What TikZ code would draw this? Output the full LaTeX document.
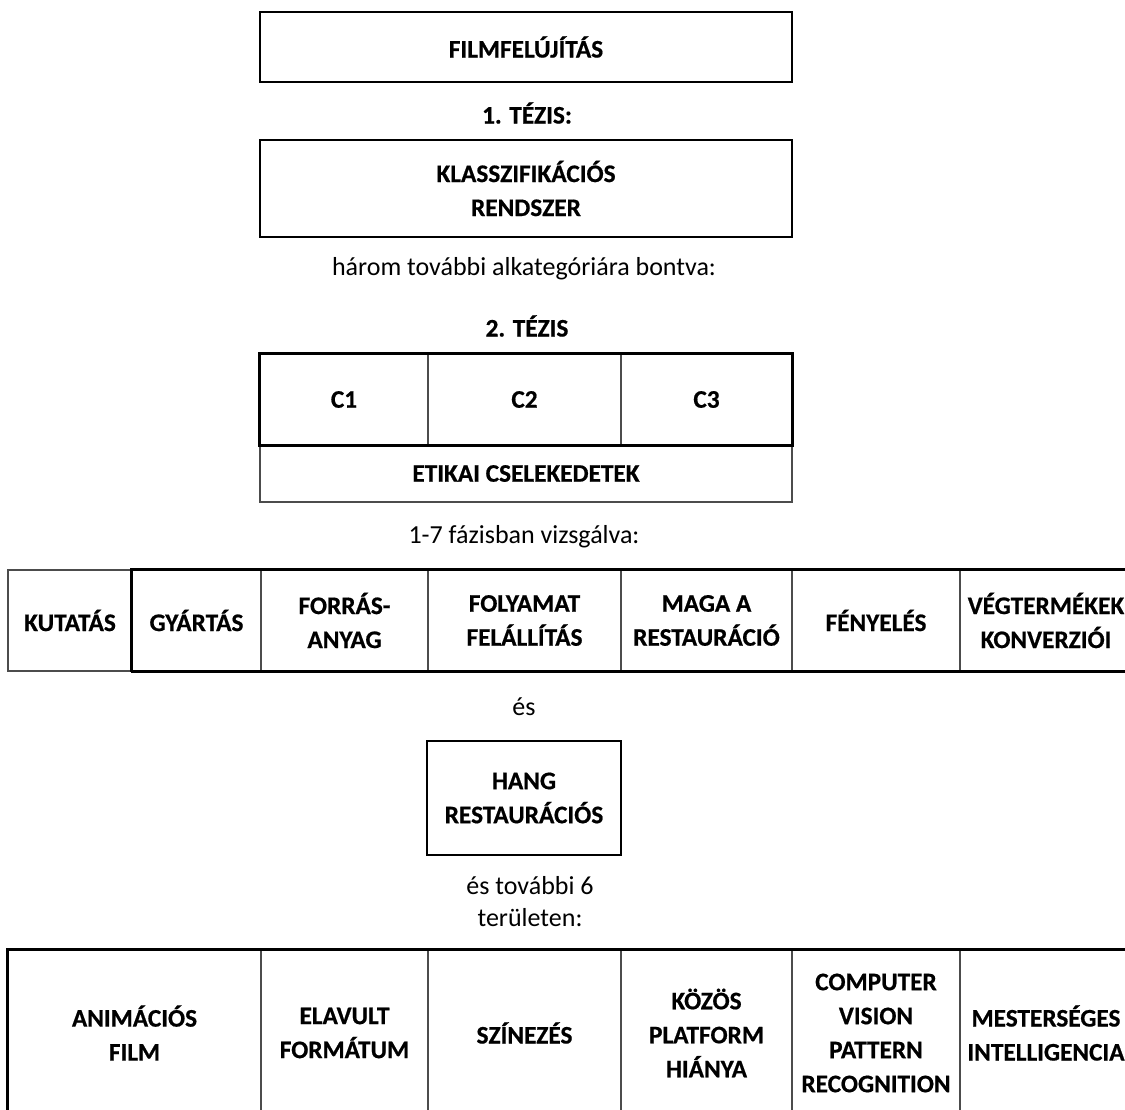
\documentclass[tikz,border=0pt]{standalone}
\usepackage{fontspec}
\setmainfont{Carlito}[BoldFeatures={FakeBold=0.6}]
\begin{document}
\begin{tikzpicture}[x=1pt,y=-1pt,
  thickline/.style={line width=2.6pt, draw=black},
  thinline/.style={line width=1.1pt, draw=black!70},
  txt/.style={font=\bfseries\fontsize{25.3}{34}\selectfont, align=center, inner sep=0pt},
  plaintxt/.style={font=\fontsize{26}{32}\selectfont, align=center, inner sep=0pt},
  cellbox/.style={txt, thinline, minimum width=#1}
]
\useasboundingbox (0,0) rectangle (1125,1110);
\clip (0,0) rectangle (1125,1110);

% top boxes
\node[txt, thickline, minimum width=532, minimum height=70] (film) at (526,47) {FILMFELÚJÍTÁS};
\node[txt] (tezis1) at (527,113) {1. TÉZIS:};
\node[txt, thickline, minimum width=532, minimum height=97] (klassz) at (526,188.5) {KLASSZIFIKÁCIÓS\\RENDSZER};
\node[plaintxt] (harom) at (524,269) {három további alkategóriára bontva:};
\node[txt] (tezis2) at (527,326) {2. TÉZIS};

% C table
\node[cellbox=168, minimum height=91] (c1) at (344,399.5) {C1};
\node[cellbox=193, minimum height=91] (c2) at (524.5,399.5) {C2};
\node[cellbox=171, minimum height=91] (c3) at (706.5,399.5) {C3};
\node[cellbox=532, minimum height=57] (etika) at (526,473.5) {ETIKAI CSELEKEDETEK};
\draw[thickline] (c1.north west) rectangle (c3.south east);

\node[plaintxt] (fazis) at (524,537) {1-7 fázisban vizsgálva:};

% phases row
\node[cellbox=124, minimum height=101] (kutatas) at (70,620.5) {KUTATÁS};
\node[cellbox=129, minimum height=101] (gyartas) at (196.5,620.5) {GYÁRTÁS};
\node[cellbox=167, minimum height=101] (forras) at (344.5,620.5) {FORRÁS-\\ANYAG};
\node[cellbox=193, minimum height=101] (folyamat) at (524.5,620.5) {FOLYAMAT\\FELÁLLÍTÁS};
\node[cellbox=171, minimum height=101] (maga) at (706.5,620.5) {MAGA A\\RESTAURÁCIÓ};
\node[cellbox=168, minimum height=101] (fenyeles) at (876,620.5) {FÉNYELÉS};
\node[cellbox=172, minimum height=101] (vegterm) at (1046,620.5) {VÉGTERMÉKEK\\KONVERZIÓI};
\draw[thickline] (gyartas.south west) -- (gyartas.north west) -- (vegterm.north east);
\draw[thickline] (gyartas.south west) -- (vegterm.south east);

\node[plaintxt] (es) at (524,707) {és};
\node[txt, thickline, minimum width=194, minimum height=114] (hang) at (524,798) {HANG\\RESTAURÁCIÓS};
\node[plaintxt] (tovabbi) at (530,902) {és további 6\\területen:};

% areas row
\node[cellbox=253, minimum height=166] (anim) at (134.5,1033) {ANIMÁCIÓS\\FILM};
\node[cellbox=167, minimum height=166] (elavult) at (344.5,1033) {ELAVULT\\FORMÁTUM};
\node[cellbox=193, minimum height=166] (szinezes) at (524.5,1033) {SZÍNEZÉS};
\node[cellbox=171, minimum height=166] (kozos) at (706.5,1033) {KÖZÖS\\PLATFORM\\HIÁNYA};
\node[cellbox=168, minimum height=166] (cv) at (876,1033) {COMPUTER\\VISION\\PATTERN\\RECOGNITION};
\node[cellbox=172, minimum height=166] (mi) at (1046,1033) {MESTERSÉGES\\INTELLIGENCIA};
\draw[thickline] (anim.south west) -- (anim.north west) -- (mi.north east);
\end{tikzpicture}
\end{document}
